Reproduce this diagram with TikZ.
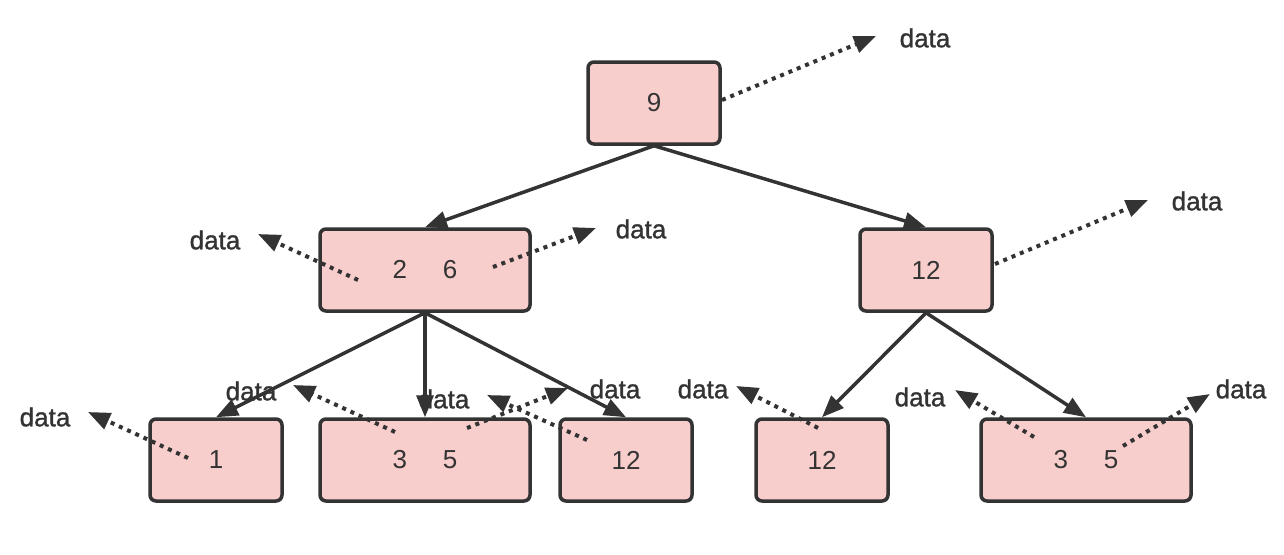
\documentclass[tikz,border=0pt]{standalone}
\usepackage{fontspec}
\setmainfont{Liberation Sans}
\newfontfamily\datafont[FakeBold=1.2]{Liberation Sans}
\usetikzlibrary{arrows.meta,calc}
\definecolor{boxfill}{HTML}{F8CECC}
\definecolor{ink}{HTML}{333333}
\begin{document}
\begin{tikzpicture}[x=1pt,y=-1pt,
  box/.style={draw=ink,fill=boxfill,line width=3.5pt,rounded corners=6pt,
    minimum height=82pt,inner sep=0pt,font=\fontsize{26}{30}\selectfont,text=ink},
  narrow/.style={box,minimum width=132pt},
  wide/.style={box,minimum width=210pt},
  link/.style={draw=ink,line width=3.5pt,-{Triangle[length=22pt,width=17pt]}},
  dataarrow/.style={draw=ink,line width=4pt,dash pattern=on 4pt off 5pt,
    -{Triangle[length=22pt,width=17pt]}},
  lbl/.style={font=\datafont\fontsize{26}{30}\selectfont,text=ink,inner sep=0pt}
]
\useasboundingbox (0,0) rectangle (1284,554);

% nodes
\node[narrow] (root) at (654,103) {9};
\node[wide]   (a)    at (425,270) {2\hspace{36pt}6};
\node[narrow] (b)    at (926,270) {12};
\node[narrow] (l1)   at (216,460) {1};
\node[wide]   (l2)   at (425,460) {3\hspace{36pt}5};
\node[narrow] (l3)   at (626,460) {12};
\node[narrow] (l4)   at (822,460) {12};
\node[wide]   (l5)   at (1086,460) {3\hspace{36pt}5};

% data labels
\node[lbl] (d0)  at (925,38)  {data};
\node[lbl] (d1)  at (215,240) {data};
\node[lbl] (d2)  at (641,229) {data};
\node[lbl] (d3)  at (1197,201) {data};
\node[lbl] (d4)  at (45,417)  {data};
\node[lbl] (d5)  at (251,391) {data};
\node[lbl] (d6)  at (615,389) {data};
\node[lbl] (d7)  at (444,399) {data};
\node[lbl] (d8)  at (703,389) {data};
\node[lbl] (d9)  at (920,397) {data};
\node[lbl] (d10) at (1241,389) {data};

% start and tip coordinates of data pointers
\coordinate (s0) at (722,100);  \coordinate (t0) at (876,36);
\coordinate (s1) at (358,280);  \coordinate (t1) at (258,234);
\coordinate (s2) at (493,267);  \coordinate (t2) at (596,228);
\coordinate (s3) at (995,264);  \coordinate (t3) at (1148,200);
\coordinate (s4) at (188,458);  \coordinate (t4) at (88,412);
\coordinate (s5) at (395,432);  \coordinate (t5) at (293,385);
\coordinate (s6) at (467,428);  \coordinate (t6) at (568,388);
\coordinate (s7) at (587,440);  \coordinate (t7) at (487,395);
\coordinate (s8) at (818,428);  \coordinate (t8) at (736,386);
\coordinate (s9) at (1034,437); \coordinate (t9) at (955,390);
\coordinate (s10) at (1123,446); \coordinate (t10) at (1210,394);

\foreach \i in {0,...,10}{
  \draw[dataarrow] (s\i) -- (t\i);
}

% tree links
\draw[link] (root.south) -- (a.north);
\draw[link] (root.south) -- (b.north);
\draw[link] (a.south) -- (l1.north);
\draw[link] (a.south) -- (l2.north);
\draw[link] (a.south) -- (l3.north);
\draw[link] (b.south) -- (l4.north);
\draw[link] (b.south) -- (l5.north);
\end{tikzpicture}
\end{document}
